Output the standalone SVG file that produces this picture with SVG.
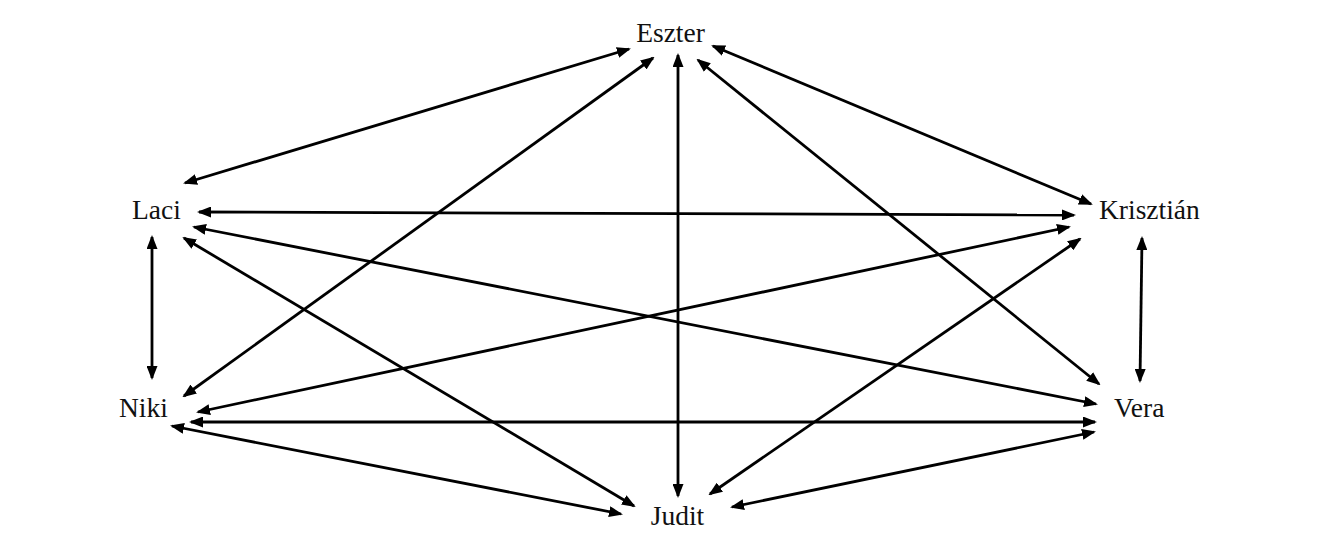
<svg xmlns="http://www.w3.org/2000/svg" width="1331" height="538" viewBox="0 0 1331 538">
<style>
.lbl{font-family:"Liberation Serif","Times New Roman",serif;font-size:27.5px;fill:#111}
.e{stroke:#000;stroke-width:2.8;fill:none;marker-start:url(#ah);marker-end:url(#ah)}
</style>
<defs>
<marker id="ah" markerUnits="userSpaceOnUse" viewBox="0 0 14 11" refX="12" refY="5.5" markerWidth="14" markerHeight="11" orient="auto-start-reverse">
<path d="M0,0 L14,5.5 L0,11 Z" fill="#000"/>
</marker>
</defs>
<rect width="1331" height="538" fill="#fff"/>
<g id="connectors">
<line class="e" x1="629" y1="49" x2="185" y2="183"/>
<line class="e" x1="653" y1="58" x2="184" y2="396"/>
<line class="e" x1="678" y1="55" x2="678" y2="496"/>
<line class="e" x1="698" y1="60" x2="1099" y2="384"/>
<line class="e" x1="713" y1="46" x2="1091" y2="204"/>
<line class="e" x1="199" y1="212" x2="1074" y2="215"/>
<line class="e" x1="152" y1="237" x2="152" y2="378"/>
<line class="e" x1="194" y1="227" x2="1096" y2="404"/>
<line class="e" x1="184" y1="238" x2="634" y2="506"/>
<line class="e" x1="1069" y1="227" x2="198" y2="412"/>
<line class="e" x1="1080" y1="239" x2="710" y2="494"/>
<line class="e" x1="1142" y1="238" x2="1140" y2="381"/>
<line class="e" x1="191" y1="422" x2="1095" y2="422"/>
<line class="e" x1="172" y1="426" x2="621" y2="514"/>
<line class="e" x1="1094" y1="432" x2="732" y2="507"/>
</g>
<g id="node-eszter"><text class="lbl" x="670.5" y="42" text-anchor="middle">Eszter</text></g>
<g id="node-laci"><text class="lbl" x="132" y="219">Laci</text></g>
<g id="node-krisztian"><text class="lbl" x="1099" y="219">Krisztián</text></g>
<g id="node-niki"><text class="lbl" x="119" y="417">Niki</text></g>
<g id="node-vera"><text class="lbl" x="1114" y="417">Vera</text></g>
<g id="node-judit"><text class="lbl" x="677.5" y="525" text-anchor="middle">Judit</text></g>
</svg>
